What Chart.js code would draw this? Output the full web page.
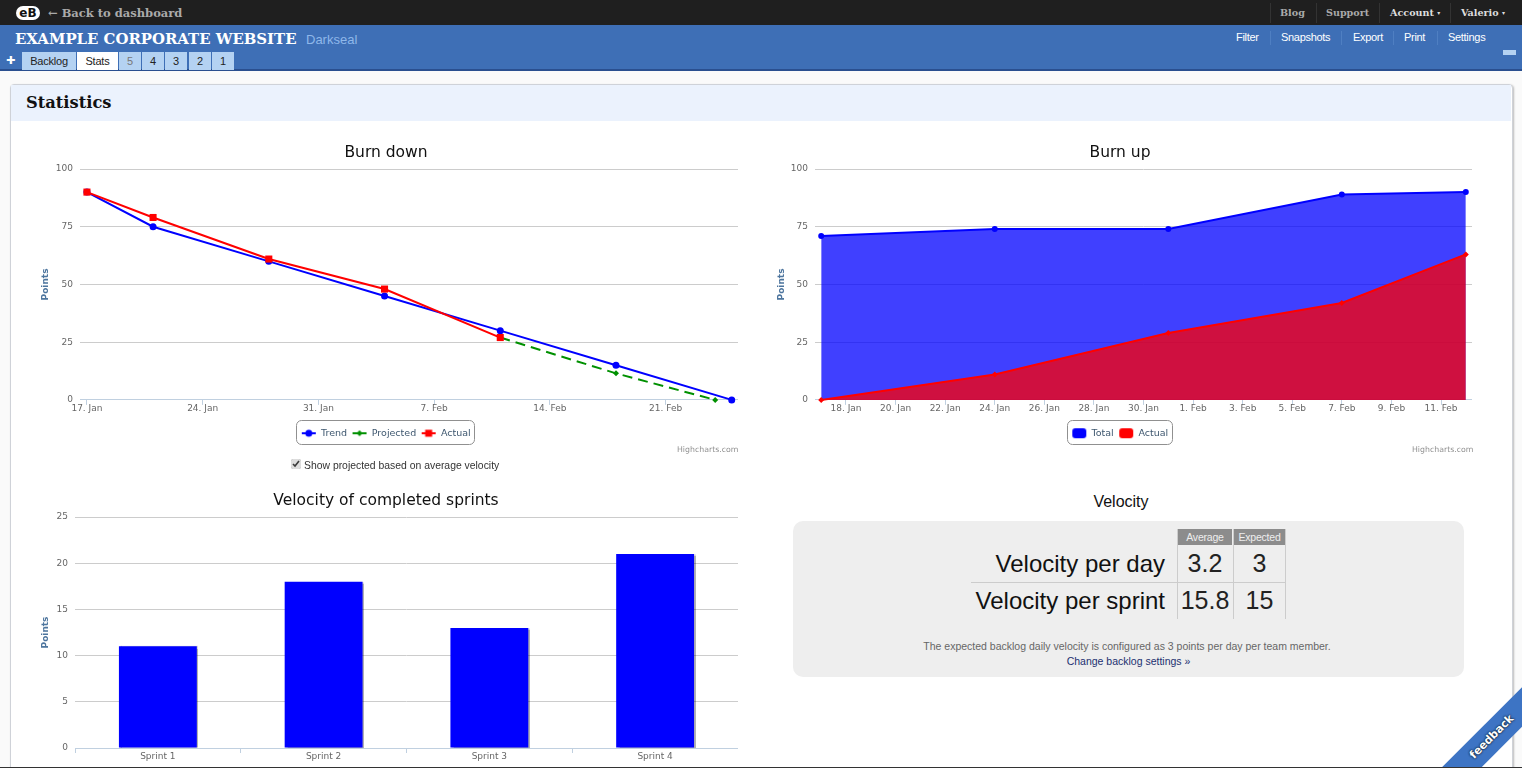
<!DOCTYPE html>
<html>
<head>
<meta charset="utf-8">
<title>Statistics</title>
<script src="https://cdn.jsdelivr.net/npm/chart.js@4/dist/chart.umd.min.js"></script>
<style>
html,body{margin:0;padding:0;width:1522px;height:768px;overflow:hidden;background:#fafafa;font-family:"Liberation Sans",Arial,sans-serif}
.abs,canvas.chart{position:absolute}
.top{position:absolute;left:0;top:0;width:1522px;height:25px;background:#1f1f1f}
.bar{position:absolute;left:0;top:25px;width:1522px;height:44px;background:#3e6fb6;border-bottom:2px solid #2a4f8f}
.serif{font-family:"DejaVu Serif",serif;font-weight:bold;font-size:9.6px;white-space:nowrap}
.caret{font-size:6px;vertical-align:1px}
.sep{position:absolute;top:3px;width:1px;height:20px;background:#333}
.sep2{position:absolute;top:31px;width:1px;height:14px;background:#4f7fc2}
.menu{position:absolute;top:31px;font-size:11px;letter-spacing:-0.3px;color:#fff;white-space:nowrap}
.tab{position:absolute;top:52px;height:18px;background:#b4d2f2;color:#222;font-size:11px;letter-spacing:-0.2px;line-height:18px;text-align:center}
.panel{position:absolute;left:10px;top:84px;width:1501px;height:700px;background:#fff;border:1px solid #cfd2d8;border-radius:4px;box-shadow:1px 1px 2px #bbb}
.head{position:absolute;left:11px;top:85px;width:1500px;height:36px;background:#ebf2fd}
.credit{position:absolute;top:445px;font:7.8px "DejaVu Sans",sans-serif;color:#909090;white-space:nowrap}
.velbox{position:absolute;left:793px;top:521px;width:671px;height:156px;background:#eee;border-radius:10px}
.num{position:absolute;font-size:25px;color:#222;white-space:nowrap;text-align:center}
.lab{position:absolute;font-size:24px;color:#111;white-space:nowrap;text-align:right}
.th{position:absolute;top:529px;height:16px;background:#8c8c8c;color:#eee;font-size:10.5px;letter-spacing:-0.2px;line-height:16px;text-align:center}
.ribbon{position:absolute;left:1427px;top:723px;width:130px;height:28px;background:#3d74c4;transform:rotate(-45deg);color:#fff;font:bold 11px "DejaVu Sans",sans-serif;line-height:28px;text-align:center;text-shadow:0 0 2px #123,0 0 2px #123}
</style>
</head>
<body>
<div class="top"></div>
<div class="bar"></div>
<div class="abs" style="left:16px;top:6px;width:24px;height:14px;background:#fff;border-radius:7px;color:#111;font:bold 12px/14px 'DejaVu Sans',sans-serif;text-align:center">eB</div>
<div class="abs serif" style="left:48px;top:6px;color:#aaa;font-size:11.5px">← Back to dashboard</div>
<div class="sep" style="left:1270px"></div><div class="sep" style="left:1316px"></div><div class="sep" style="left:1379px"></div><div class="sep" style="left:1450px"></div>
<div class="abs serif" style="left:1280px;top:7px;color:#aaa">Blog</div>
<div class="abs serif" style="left:1326px;top:7px;color:#aaa">Support</div>
<div class="abs serif" style="left:1390px;top:7px;color:#ddd">Account <span class="caret">▾</span></div>
<div class="abs serif" style="left:1461px;top:7px;color:#ddd">Valerio <span class="caret">▾</span></div>
<div class="abs serif" style="left:15px;top:30px;color:#fff;font-size:14.9px">EXAMPLE CORPORATE WEBSITE</div>
<div class="abs" style="left:306px;top:32px;color:#8fb8ea;font-size:13px">Darkseal</div>
<div class="menu" style="left:1236px">Filter</div><div class="sep2" style="left:1270px"></div>
<div class="menu" style="left:1281px">Snapshots</div><div class="sep2" style="left:1341px"></div>
<div class="menu" style="left:1353px">Export</div><div class="sep2" style="left:1393px"></div>
<div class="menu" style="left:1404px">Print</div><div class="sep2" style="left:1437px"></div>
<div class="menu" style="left:1448px">Settings</div>
<div class="abs" style="left:1503px;top:50px;width:13px;height:5px;background:#b4d2f2"></div>
<div class="abs" style="left:6px;top:52px;color:#fff;font:bold 11px/18px 'DejaVu Sans',sans-serif">✚</div>
<div class="tab" style="left:22px;width:54px">Backlog</div>
<div class="tab" style="left:77px;width:41px;background:#fff">Stats</div>
<div class="tab" style="left:119px;width:22px;color:#777">5</div>
<div class="tab" style="left:142px;width:22px">4</div>
<div class="tab" style="left:165px;width:22px">3</div>
<div class="tab" style="left:189px;width:22px">2</div>
<div class="tab" style="left:212px;width:22px">1</div>
<div class="panel"></div>
<div class="head"></div>
<div class="abs serif" style="left:26px;top:93px;color:#111;font-size:16.3px">Statistics</div>

<canvas class="chart" id="burn-down" style="left:34px;top:140px"></canvas>
<canvas class="chart" id="burn-up" style="left:768px;top:140px"></canvas>
<canvas class="chart" id="velocity-chart" style="left:34px;top:488px"></canvas>
<div class="credit" style="left:677px">Highcharts.com</div>
<div class="credit" style="left:1412px">Highcharts.com</div>
<input type="checkbox" checked class="abs" style="left:291px;top:459px;margin:0;width:10px;height:10px;accent-color:#ddd">
<div class="abs" style="left:304px;top:460px;font-size:10.4px;color:#333;white-space:nowrap">Show projected based on average velocity</div>

<div class="abs" style="left:1021px;top:493px;width:200px;text-align:center;font-size:16px;color:#111">Velocity</div>
<div class="velbox"></div>
<div class="th" style="left:1178px;width:54px">Average</div>
<div class="th" style="left:1234px;width:51px">Expected</div>
<div class="abs" style="left:1177px;top:529px;width:1px;height:90px;background:#ccc"></div>
<div class="abs" style="left:1233px;top:529px;width:1px;height:90px;background:#ccc"></div>
<div class="abs" style="left:1285px;top:529px;width:1px;height:90px;background:#ccc"></div>
<div class="abs" style="left:971px;top:582px;width:314px;height:1px;background:#ccc"></div>
<div class="lab" style="left:965px;width:200px;top:550px">Velocity per day</div>
<div class="lab" style="left:965px;width:200px;top:587px">Velocity per sprint</div>
<div class="num" style="left:1178px;width:54px;top:549px">3.2</div>
<div class="num" style="left:1234px;width:51px;top:549px">3</div>
<div class="num" style="left:1178px;width:54px;top:586px">15.8</div>
<div class="num" style="left:1234px;width:51px;top:586px">15</div>
<div class="abs" style="left:793px;width:668px;top:640px;text-align:center;font-size:10.5px;color:#666">The expected backlog daily velocity is configured as 3 points per day per team member.</div>
<div class="abs" style="left:793px;width:671px;top:655px;text-align:center;font-size:10.5px;color:#223070">Change backlog settings »</div>
<div class="ribbon">feedback</div>
<div class="abs" style="left:0;top:767px;width:1522px;height:1px;background:#333"></div>

<script>
// days counted from 17 Jan
const downDays = [0, 4, 11, 18, 25, 32, 39];
const downTrend = [90, 75, 60, 45, 30, 15, 0];
const downActualDays = [0, 4, 11, 18, 25];
const downActual = [90, 79, 61, 48, 27];
const downProjectedDays = [25, 32, 38];
const downProjected = [27, 11.5, 0];
const downTickDays = [0, 7, 14, 21, 28, 35];
const downTickLabels = ['17. Jan', '24. Jan', '31. Jan', '7. Feb', '14. Feb', '21. Feb'];

const upDays = [0, 7, 14, 21, 26];
const upTotal = [71, 74, 74, 89, 90];
const upActual = [0, 11, 29, 42, 63];
const upTickDays = [1, 3, 5, 7, 9, 11, 13, 15, 17, 19, 21, 23, 25];
const upTickLabels = ['18. Jan', '20. Jan', '22. Jan', '24. Jan', '26. Jan', '28. Jan', '30. Jan', '1. Feb', '3. Feb', '5. Feb', '7. Feb', '9. Feb', '11. Feb'];

const sprintNames = ['Sprint 1', 'Sprint 2', 'Sprint 3', 'Sprint 4'];
const sprintPoints = [11, 18, 13, 21];

const FONT = '"DejaVu Sans", sans-serif';
const TICK_COLOR = '#666';
Chart.defaults.animation = false;
Chart.defaults.responsive = false;
Chart.defaults.devicePixelRatio = 1;
Chart.defaults.font.family = FONT;

function pairs(xs, ys) {
    return xs.map((x, i) => ({ x: x, y: ys[i] }));
}

// little canvas used as the legend symbol
function legendIcon(color, kind) {
    let c = document.createElement('canvas');
    c.width = 16;
    c.height = 12;
    let g = c.getContext('2d');
    g.fillStyle = color;
    g.strokeStyle = color;
    if (kind === 'area') {
        g.beginPath();
        g.roundRect(1, 1, 14, 10, 3);
        g.fill();
        return c;
    }
    g.lineWidth = 2;
    g.beginPath();
    g.moveTo(1, 6);
    g.lineTo(15, 6);
    g.stroke();
    g.beginPath();
    if (kind === 'circle') g.arc(8, 6, 3.5, 0, Math.PI * 2);
    if (kind === 'square') g.rect(4.5, 2.5, 7, 7);
    if (kind === 'diamond') { g.moveTo(8, 3); g.lineTo(11, 6); g.lineTo(8, 9); g.lineTo(5, 6); g.closePath(); }
    g.fill();
    return c;
}

function legendOptions(icons) {
    return {
        position: 'bottom',
        onClick: null,
        labels: {
            usePointStyle: true,
            pointStyleWidth: 15,
            boxHeight: 10,
            padding: 5,
            color: '#3E576F',
            font: { size: 9.5, family: FONT },
            sort: (a, b) => a.datasetIndex - b.datasetIndex,
            generateLabels: chart => Chart.defaults.plugins.legend.labels.generateLabels(chart).map(item => {
                item.pointStyle = icons[item.datasetIndex];
                return item;
            })
        }
    };
}

const legendBorder = {
    id: 'legendBorder',
    afterDraw(chart) {
        let legend = chart.legend;
        let boxes = legend && legend.legendHitBoxes;
        if (!boxes || !boxes.length) return;
        let last = boxes[boxes.length - 1];
        let g = chart.ctx;
        g.save();
        g.strokeStyle = '#909090';
        g.lineWidth = 1;
        g.beginPath();
        g.roundRect(Math.round(boxes[0].left) - 4.5, Math.round(legend.top + 9.5) - 12.5, Math.round(last.left + last.width - boxes[0].left) + 9, 24, 5);
        g.stroke();
        g.restore();
    }
};

const barShadow = {
    id: 'barShadow',
    beforeDatasetDraw(chart) {
        if (chart.config.type !== 'bar') return;
        chart.ctx.save();
        chart.ctx.shadowColor = 'rgba(0,0,0,0.3)';
        chart.ctx.shadowOffsetX = 1.5;
        chart.ctx.shadowOffsetY = 0;
        chart.ctx.shadowBlur = 1;
    },
    afterDatasetDraw(chart) {
        if (chart.config.type === 'bar') chart.ctx.restore();
    }
};

function titleOptions(text) {
    return {
        display: true,
        text: text,
        color: '#111',
        font: { size: 15.5, weight: 'normal', family: FONT },
        padding: { top: 3.4, bottom: 7 }
    };
}

function yAxis(max, step, leftWidth, titlePad) {
    return {
        min: 0,
        max: max,
        afterFit(axis) { axis.width = leftWidth; },
        border: { display: false },
        grid: { color: '#CCCCCC', drawTicks: false, tickLength: 0 },
        ticks: { stepSize: step, padding: 7, color: TICK_COLOR, font: { size: 9 } },
        title: { display: true, text: 'Points', color: '#4d759e', font: { size: 9, weight: 'bold' }, padding: { top: titlePad, bottom: 0 } }
    };
}

function dateAxis(min, max, tickDays, tickLabels) {
    return {
        type: 'linear',
        min: min,
        max: max,
        afterFit(axis) {
            axis.height = 23.6;
            axis.paddingLeft = 0;
            axis.paddingRight = 0;
        },
        afterBuildTicks(axis) { axis.ticks = tickDays.map(d => ({ value: d })); },
        border: { color: '#C0D0E0' },
        grid: { drawOnChartArea: false, color: '#C0D0E0', tickLength: 5 },
        ticks: {
            autoSkip: false, maxRotation: 0, minRotation: 0, padding: -2,
            color: TICK_COLOR, font: { size: 9 },
            callback: (v, i) => tickLabels[i]
        }
    };
}

function sizeCanvas(id, w, h) {
    let c = document.getElementById(id);
    c.width = w;
    c.height = h;
    return c;
}

function lineStyle(color, point, radius) {
    return {
        borderColor: color, borderWidth: 2, tension: 0, clip: false,
        pointStyle: point, pointRadius: radius,
        pointBackgroundColor: color, pointBorderColor: color, pointBorderWidth: 0
    };
}

new Chart(sizeCanvas('burn-down', 704, 320), {
    type: 'line',
    data: {
        datasets: [
            { label: 'Trend', order: 3, data: pairs(downDays, downTrend), ...lineStyle('#0000ff', 'circle', 3.5) },
            { label: 'Projected', order: 2, data: pairs(downProjectedDays, downProjected), borderDash: [10, 6], ...lineStyle('#009000', 'rectRot', 3) },
            { label: 'Actual', order: 1, data: pairs(downActualDays, downActual), ...lineStyle('#ff0000', 'rect', 5) }
        ]
    },
    options: {
        layout: { autoPadding: false, padding: { bottom: 12 } },
        scales: { x: dateAxis(-0.42, 39.38, downTickDays, downTickLabels), y: yAxis(100, 25, 46, 6.6) },
        plugins: {
            title: titleOptions('Burn down'),
            legend: legendOptions([legendIcon('#0000ff', 'circle'), legendIcon('#009000', 'diamond'), legendIcon('#ff0000', 'square')]),
            tooltip: { enabled: false }
        }
    },
    plugins: [legendBorder]
});

new Chart(sizeCanvas('burn-up', 704, 320), {
    type: 'line',
    data: {
        datasets: [
            { label: 'Total', data: pairs(upDays, upTotal), order: 2, fill: 'origin', backgroundColor: 'rgba(0,0,255,0.75)', ...lineStyle('#0000ff', 'circle', 3) },
            { label: 'Actual', data: pairs(upDays, upActual), order: 1, fill: 'origin', backgroundColor: 'rgba(255,0,0,0.75)', ...lineStyle('#ff0000', 'rectRot', 3) }
        ]
    },
    options: {
        layout: { autoPadding: false, padding: { bottom: 12 } },
        scales: { x: dateAxis(-0.25, 26.25, upTickDays, upTickLabels), y: yAxis(100, 25, 47, 8.6) },
        plugins: {
            title: titleOptions('Burn up'),
            legend: legendOptions([legendIcon('#0000ff', 'area'), legendIcon('#ff0000', 'area')]),
            tooltip: { enabled: false }
        }
    },
    plugins: [legendBorder]
});

new Chart(sizeCanvas('velocity-chart', 704, 280), {
    type: 'bar',
    data: {
        labels: sprintNames,
        datasets: [{ label: 'Velocity', data: sprintPoints, backgroundColor: '#0000ff', categoryPercentage: 1, barPercentage: 0.47 }]
    },
    options: {
        scales: {
            x: {
                afterFit(axis) {
                    axis.height = 20;
                    axis.paddingLeft = 0;
                    axis.paddingRight = 0;
                },
                border: { color: '#C0D0E0' },
                grid: { offset: true, drawOnChartArea: false, color: '#C0D0E0', tickLength: 5 },
                ticks: { padding: -2, color: TICK_COLOR, font: { size: 9 }, maxRotation: 0 }
            },
            y: yAxis(25, 5, 41, 6.6)
        },
        plugins: {
            title: titleOptions('Velocity of completed sprints'),
            legend: { display: false },
            tooltip: { enabled: false }
        }
    },
    plugins: [barShadow]
});
</script>
</body>
</html>
